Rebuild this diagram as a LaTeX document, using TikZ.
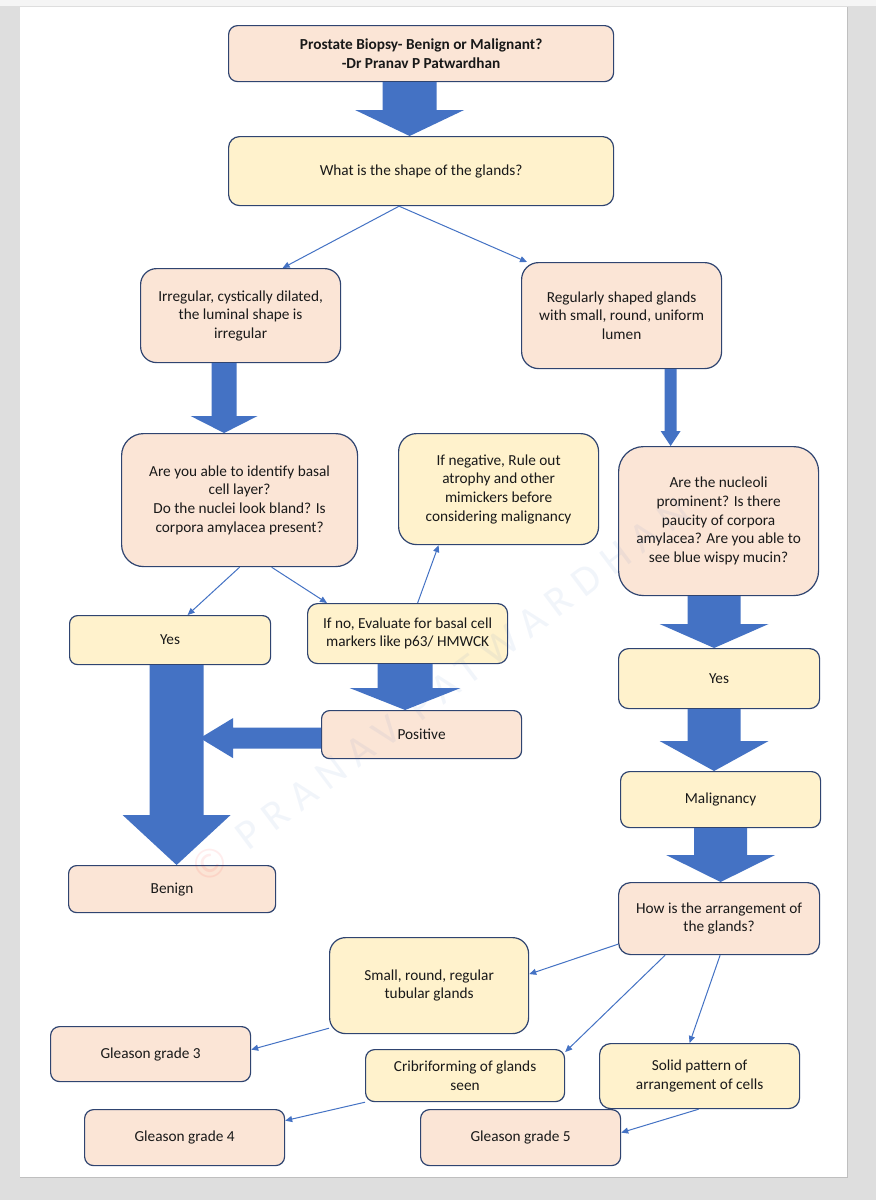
\documentclass[tikz,border=0pt]{standalone}
\usepackage{fontspec}
\setmainfont{Carlito}
\usetikzlibrary{arrows.meta,calc}

\definecolor{peach}{HTML}{FBE5D6}
\definecolor{lemon}{HTML}{FFF2CC}
\definecolor{edge}{HTML}{2F4470}
\definecolor{blockblue}{HTML}{4472C4}
\definecolor{pagegrey}{HTML}{DEDEDE}

\tikzset{
  box/.style={anchor=north west,draw=edge,line width=1.2pt,align=center,inner sep=2pt,
    text=black!90,font=\fontsize{15.3}{18.6}\selectfont},
  peachbox/.style={box,fill=peach,rounded corners=#1},
  peachbox/.default=9pt,
  lemonbox/.style={box,fill=lemon,rounded corners=#1},
  lemonbox/.default=9pt,
  thinarrow/.style={draw=blockblue,line width=1pt,-{Triangle[length=7pt,width=6pt]}}
}

% block arrow pointing down: top centre, target node, shaft half width, head half width, head length
\newcommand{\blockdown}[5]{%
  \fill[blockblue] let \p1=(#1), \p2=(#2.north) in
    (\x1-#3pt,\y1) -- (\x1+#3pt,\y1) -- (\x1+#3pt,\y2+#5pt) -- (\x1+#4pt,\y2+#5pt)
    -- (\x1,\y2) -- (\x1-#4pt,\y2+#5pt) -- (\x1-#3pt,\y2+#5pt) -- cycle;}

\begin{document}
\begin{tikzpicture}[x=1pt,y=-1pt]

\useasboundingbox (0,0) rectangle (876,1200);
\fill[pagegrey] (0,0) rectangle (876,1200);
\fill[black!4] (0,0) rectangle (876,6);
\fill[white] (20,7) rectangle (847,1177);
\draw[black!25,line width=1pt] (847,7) -- (847,1177) -- (20,1177);

%%%%%%%%%%%%%%%%%%%%%%%%%%%%
\node [peachbox,minimum width=385,minimum height=56] (title) at (228,25) {\textbf{Prostate Biopsy- Benign or Malignant?}\\\textbf{-Dr Pranav P Patwardhan}};
\node [lemonbox=11pt,minimum width=385,minimum height=69] (shape) at (228,136) {What is the shape of the glands?};
\blockdown{[xshift=-11.5]title.south}{shape}{27}{54.5}{26}

\node [peachbox=16pt,minimum width=200,minimum height=94] (irreg) at (140,268) {Irregular, cystically dilated,\\the luminal shape is\\irregular};
\node [peachbox=17pt,minimum width=200,minimum height=106] (regular) at (521,262) {Regularly shaped glands\\with small, round, uniform\\lumen};
\draw [thinarrow] ([xshift=-22]shape.south) -- ([xshift=42]irreg.north);
\draw [thinarrow] ([xshift=-22]shape.south) -- ([xshift=6]regular.north west);

%%%%%%%%%%%%%%%%%%%%%%%%%%%%
\node [peachbox=22pt,minimum width=236,minimum height=133] (able) at (121,433) {Are you able to identify basal\\cell layer?\\Do the nuclei look bland? Is\\corpora amylacea present?};
\node [lemonbox=18pt,minimum width=200,minimum height=111] (neg) at (398,433) {If negative, Rule out\\atrophy and other\\mimickers before\\considering malignancy};
\blockdown{[xshift=-16.5]irreg.south}{able}{12.5}{33.5}{17}

\node [lemonbox=8pt,minimum width=201,minimum height=49] (yesL) at (69,615) {Yes};
\node [lemonbox=10pt,minimum width=200,minimum height=60] (ifno) at (307,603) {If no, Evaluate for basal cell\\markers like p63/ HMWCK};
\draw [thinarrow] (able.south) -- ([xshift=17.5]yesL.north);
\draw [thinarrow] ([xshift=32]able.south) -- ([xshift=20]ifno.north west);
\draw [thinarrow] ([xshift=10]ifno.north) -- ([xshift=-60]neg.south);

\node [peachbox=8pt,minimum width=200,minimum height=48] (positive) at (321,710) {Positive};
\blockdown{[xshift=-2.5]ifno.south}{positive}{27.5}{55.5}{22}

\node [peachbox=8pt,minimum width=207,minimum height=47] (benign) at (68,865) {Benign};
\blockdown{[xshift=6.5]yesL.south}{benign}{27}{54}{50}

% arrow from Positive into the Yes arrow
\coordinate (postip) at (200,737.5);
\fill[blockblue] let \p1=([yshift=-3.5]positive.west), \p2=(postip) in
  (\x1,\y1+10.5pt) -- (\x2+33pt,\y1+10.5pt) -- (\x2+33pt,\y1+20pt) -- (\x2,\y1)
  -- (\x2+33pt,\y1-20pt) -- (\x2+33pt,\y1-10.5pt) -- (\x1,\y1-10.5pt) -- cycle;

%%%%%%%%%%%%%%%%%%%%%%%%%%%%
\node [peachbox=25pt,minimum width=200,minimum height=149] (nucleoli) at (618,446) {Are the nucleoli\\prominent? Is there\\paucity of corpora\\amylacea? Are you able to\\see blue wispy mucin?};
\blockdown{[xshift=49]regular.south}{nucleoli}{6}{10}{15}

\node [lemonbox=10pt,minimum width=201,minimum height=60] (yesR) at (618,648) {Yes};
\blockdown{[xshift=-4.5]nucleoli.south}{yesR}{26.5}{54.5}{24}

\node [lemonbox=9pt,minimum width=200,minimum height=56] (malig) at (620,771) {Malignancy};
\blockdown{[xshift=-5]yesR.south}{malig}{26.5}{54.5}{30}

\node [peachbox=12pt,minimum width=201,minimum height=72] (how) at (618,882) {How is the arrangement of\\the glands?};
\blockdown{malig.south}{how}{26.5}{54.5}{27}

%%%%%%%%%%%%%%%%%%%%%%%%%%%%
\node [lemonbox=16pt,minimum width=199,minimum height=96] (small) at (329,937) {Small, round, regular\\tubular glands};
\node [peachbox=9pt,minimum width=200,minimum height=55] (g3) at (50,1026) {Gleason grade 3};
\node [lemonbox=9pt,minimum width=199,minimum height=52] (crib) at (365,1049) {Cribriforming of glands\\seen};
\node [lemonbox=11pt,minimum width=200,minimum height=65] (solid) at (599,1043) {Solid pattern of\\arrangement of cells};
\node [peachbox=9pt,minimum width=200,minimum height=56] (g4) at (84,1109) {Gleason grade 4};
\node [peachbox=9pt,minimum width=200,minimum height=56] (g5) at (420,1109) {Gleason grade 5};

\draw [thinarrow] ([yshift=11]how.south west) -- ([yshift=11.5]small.east);
\draw [thinarrow] ([xshift=-54]how.south) -- ([yshift=-3]crib.north east);
\draw [thinarrow] ([xshift=1]how.south) -- ([xshift=-10]solid.north);
\draw [thinarrow] ([yshift=6]small.south west) -- ([yshift=4.5]g3.east);
\draw [thinarrow] (crib.south west) -- ([yshift=17]g4.east);
\draw [thinarrow] ([xshift=-1]solid.south) -- ([yshift=5]g5.east);

% faint watermark over everything
\node [rotate=37,text=blockblue,text opacity=0.07,font=\fontsize{42}{42}\selectfont\addfontfeature{LetterSpace=25}] (mark) at (440,690) {{\color{red}\textcopyright}\ PRANAV PATWARDHAN};

\end{tikzpicture}
\end{document}
